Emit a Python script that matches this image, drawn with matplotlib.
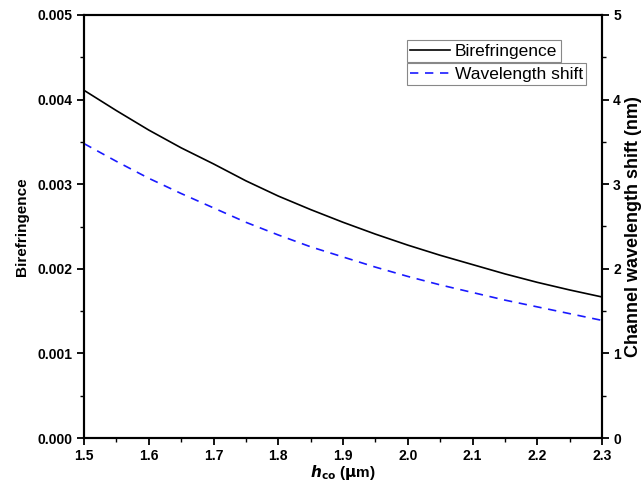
import matplotlib
matplotlib.use("Agg")
import matplotlib.pyplot as plt
from matplotlib.ticker import MultipleLocator, FormatStrFormatter

plt.rcParams['font.family'] = ['Liberation Sans', 'DejaVu Sans']

# Core thickness (um)
h_co = [1.50, 1.55, 1.60, 1.65, 1.70, 1.75, 1.80, 1.85, 1.90, 1.95,
        2.00, 2.05, 2.10, 2.15, 2.20, 2.25, 2.30]
# Birefringence (x1e-3)
biref_milli = [4.11, 3.87, 3.64, 3.43, 3.24, 3.04, 2.86, 2.70, 2.55, 2.41,
               2.28, 2.16, 2.05, 1.94, 1.84, 1.75, 1.667]
# Channel wavelength shift (nm)
shift_nm = [3.48, 3.27, 3.07, 2.89, 2.72, 2.55, 2.40, 2.26, 2.14, 2.02,
            1.91, 1.81, 1.72, 1.63, 1.55, 1.47, 1.39]

biref = [v * 1e-3 for v in biref_milli]

fig = plt.figure(figsize=(6.41, 4.87), dpi=100)
ax = fig.add_axes([84/641, 1 - 438/487, (602-84)/641, (438-15)/487])
ax2 = ax.twinx()

l1, = ax.plot(h_co, biref, color='black', lw=1.2, label='Birefringence')
l2, = ax2.plot(h_co, shift_nm, color='#1a1aff', lw=1.2, ls=(0, (5, 4)),
               label='Wavelength shift')

ax.set_xlim(1.5, 2.3)
ax.set_ylim(0, 0.005)
ax2.set_ylim(0, 5)

ax.xaxis.set_major_locator(MultipleLocator(0.1))
ax.xaxis.set_minor_locator(MultipleLocator(0.05))
ax.xaxis.set_major_formatter(FormatStrFormatter('%.1f'))
ax.yaxis.set_major_locator(MultipleLocator(0.001))
ax.yaxis.set_minor_locator(MultipleLocator(0.0005))
ax.yaxis.set_major_formatter(FormatStrFormatter('%.3f'))
ax2.yaxis.set_major_locator(MultipleLocator(1))
ax2.yaxis.set_minor_locator(MultipleLocator(0.5))

for a in (ax, ax2):
    for s in a.spines.values():
        s.set_linewidth(1.5)
    a.tick_params(which='major', direction='out', length=5, width=1.3,
                  labelsize=10)
    a.tick_params(which='minor', direction='out', length=3, width=1.0)
    for lab in a.get_xticklabels() + a.get_yticklabels():
        lab.set_fontweight('bold')
ax.tick_params(axis='x', top=False, pad=3)
ax.tick_params(axis='y', right=False)
ax2.tick_params(axis='y', pad=3)

ax.set_xlabel(r'$\boldsymbol{h}_{\mathbf{co}}$ ($\mathbf{\mu}$m)', fontsize=11,
              fontweight='bold', labelpad=0)
ax.set_ylabel('Birefringence', fontsize=11, fontweight='bold', labelpad=6)
ax2.set_ylabel('Channel wavelength shift (nm)', fontsize=13,
               fontweight='bold', labelpad=3)

leg_kw = dict(loc='upper left', bbox_transform=fig.transFigure,
              fancybox=False, edgecolor='#888888', framealpha=1,
              fontsize=12.5, handlelength=2.3, handletextpad=0.25,
              borderpad=0.2, borderaxespad=0, labelspacing=0)
leg1 = ax2.legend([l1], ['Birefringence'],
                  bbox_to_anchor=(407/641, 1 - 40/487), **leg_kw)
leg1.get_frame().set_linewidth(0.8)
ax2.add_artist(leg1)
leg2 = ax2.legend([l2], ['Wavelength shift'],
                  bbox_to_anchor=(407/641, 1 - 63/487), **leg_kw)
leg2.get_frame().set_linewidth(0.8)

fig.savefig('out.png', dpi=100)
